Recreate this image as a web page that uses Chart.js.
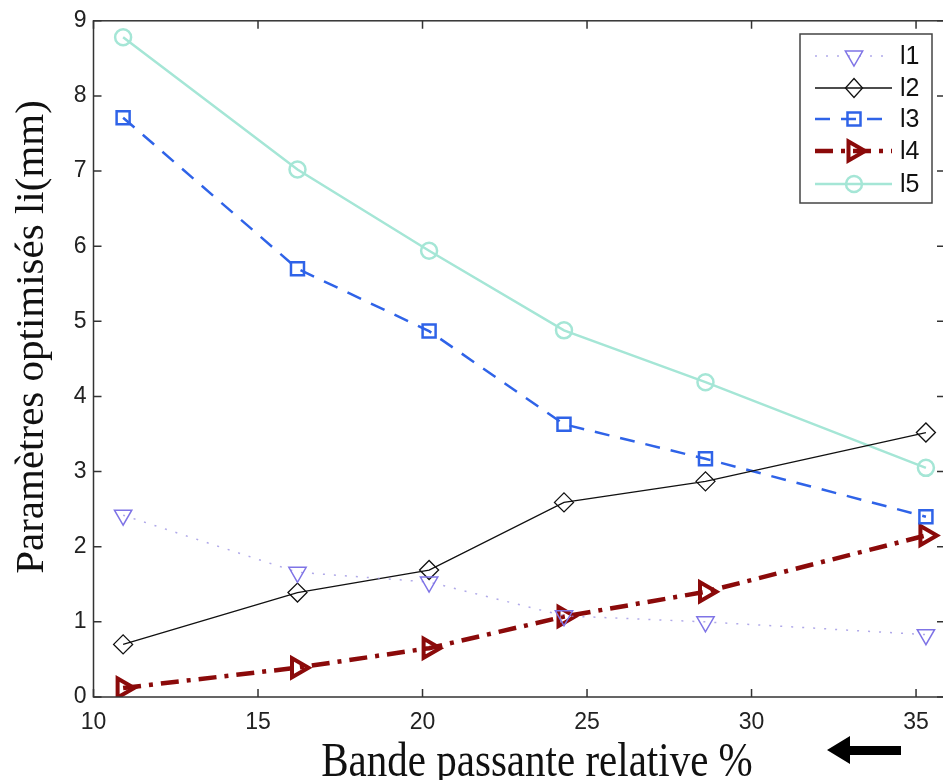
<!DOCTYPE html>
<html>
<head>
<meta charset="utf-8">
<script src="https://cdn.jsdelivr.net/npm/chart.js@4.4.1/dist/chart.umd.min.js"></script>
<style>
	html, body { margin: 0; padding: 0; background: #fff; overflow: hidden; }
	#wrap { width: 943px; height: 780px; overflow: hidden; }
</style>
</head>
<body>
<div id="wrap"><canvas id="chart" width="960" height="780"></canvas></div>
<script>
// bande passante relative (%)
const bandwidth = [10.9, 16.2, 20.2, 24.3, 28.6, 35.3];

const l1 = [2.42, 1.66, 1.53, 1.08, 1.00, 0.83];
const l2 = [0.70, 1.39, 1.69, 2.59, 2.87, 3.52];
const l3 = [7.71, 5.70, 4.87, 3.63, 3.17, 2.40];
const l4 = [0.12, 0.39, 0.65, 1.07, 1.40, 2.15];
const l5 = [8.78, 7.02, 5.94, 4.88, 4.19, 3.05];

const seriesNames = ["l1", "l2", "l3", "l4", "l5"];
const xTicks = [10, 15, 20, 25, 30, 35];
const yTicks = [0, 1, 2, 3, 4, 5, 6, 7, 8, 9];

const toPoints = (ys) => ys.map((y, i) => ({ x: bandwidth[i], y: y }));

const styles = [
	{ color: "#7f74e6", line: "rgba(150, 140, 225, 0.75)", width: 1.5, dash: [2, 9], point: "triangle", rot: 180, r: 10, pw: 1.5 },
	{ color: "#111111", line: "#111111", width: 1.3, dash: [], point: "rectRot", rot: 0, r: 9.5, pw: 1.3 },
	{ color: "#2f63e8", line: "#2f63e8", width: 2.5, dash: [15, 11], point: "rect", rot: 0, r: 9.2, pw: 2.5 },
	{ color: "#8b0a0a", line: "#8b0a0a", width: 4.5, dash: [18, 8, 4, 8], point: "triangle", rot: 90, r: 11, pw: 4 },
	{ color: "#a5e6d6", line: "#a5e6d6", width: 2.5, dash: [], point: "circle", rot: 0, r: 8, pw: 2.5 }
];

const allSeries = [l1, l2, l3, l4, l5];

const datasets = allSeries.map((ys, i) => {
	const s = styles[i];
	return {
		label: seriesNames[i],
		data: toPoints(ys),
		borderColor: s.line,
		borderWidth: s.width,
		borderDash: s.dash,
		pointStyle: s.point,
		pointRotation: s.rot,
		pointRadius: s.r,
		pointBorderColor: s.color,
		pointBorderWidth: s.pw,
		pointBackgroundColor: "rgba(0,0,0,0)",
		tension: 0,
		fill: false
	};
});

// simple marker for the legend box
function drawMarker(ctx, s, x, y) {
	ctx.save();
	ctx.setLineDash([]);
	ctx.strokeStyle = s.color;
	ctx.lineWidth = s.pw;
	ctx.beginPath();
	const r = s.r;
	if (s.point === "circle") {
		ctx.arc(x, y, r, 0, Math.PI * 2);
	} else if (s.point === "rect") {
		const h = Math.SQRT1_2 * r;
		ctx.rect(x - h, y - h, 2 * h, 2 * h);
	} else if (s.point === "rectRot") {
		ctx.moveTo(x, y - r);
		ctx.lineTo(x + r * 0.9, y);
		ctx.lineTo(x, y + r);
		ctx.lineTo(x - r * 0.9, y);
		ctx.closePath();
	} else {
		let rad = s.rot * Math.PI / 180;
		ctx.moveTo(x + Math.sin(rad) * r, y - Math.cos(rad) * r);
		rad += Math.PI * 2 / 3;
		ctx.lineTo(x + Math.sin(rad) * r, y - Math.cos(rad) * r);
		rad += Math.PI * 2 / 3;
		ctx.lineTo(x + Math.sin(rad) * r, y - Math.cos(rad) * r);
		ctx.closePath();
	}
	ctx.stroke();
	ctx.restore();
}

const frame = {
	id: "frame",
	afterDatasetsDraw: function (chart) {
		const ctx = chart.ctx;
		const a = chart.chartArea;
		const xs = chart.scales.x;
		const ys = chart.scales.y;
		const tick = 8;

		ctx.save();
		ctx.strokeStyle = "#333";
		ctx.lineWidth = 1.5;
		ctx.strokeRect(a.left, a.top, a.right - a.left, a.bottom - a.top);

		ctx.beginPath();
		xTicks.forEach((v) => {
			const px = xs.getPixelForValue(v);
			ctx.moveTo(px, a.bottom);
			ctx.lineTo(px, a.bottom - tick);
			ctx.moveTo(px, a.top);
			ctx.lineTo(px, a.top + tick);
		});
		yTicks.forEach((v) => {
			const py = ys.getPixelForValue(v);
			ctx.moveTo(a.left, py);
			ctx.lineTo(a.left + tick, py);
			ctx.moveTo(a.right, py);
			ctx.lineTo(a.right - tick, py);
		});
		ctx.stroke();
		ctx.restore();
	},
	afterDraw: function (chart) {
		const ctx = chart.ctx;

		// axis titles
		ctx.save();
		ctx.fillStyle = "#111";
		ctx.font = "41px 'Liberation Serif', 'Times New Roman', serif";
		ctx.textAlign = "center";
		ctx.textBaseline = "alphabetic";
		ctx.translate(537, 776);
		ctx.scale(1, 1.2);
		ctx.fillText("Bande passante relative %", 0, 0);
		ctx.restore();

		ctx.save();
		ctx.fillStyle = "#111";
		ctx.font = "41px 'Liberation Serif', 'Times New Roman', serif";
		ctx.textAlign = "center";
		ctx.textBaseline = "alphabetic";
		ctx.translate(43, 337);
		ctx.rotate(-Math.PI / 2);
		ctx.fillText("Paramètres optimisés li(mm)", 0, 0);
		ctx.restore();

		// arrow next to the x title
		ctx.save();
		ctx.fillStyle = "#000";
		ctx.beginPath();
		ctx.moveTo(827, 750);
		ctx.lineTo(850, 736);
		ctx.lineTo(850, 746);
		ctx.lineTo(901, 746);
		ctx.lineTo(901, 755);
		ctx.lineTo(850, 755);
		ctx.lineTo(850, 764);
		ctx.closePath();
		ctx.fill();
		ctx.restore();

		// legend box
		const box = { left: 800, top: 34, right: 932, bottom: 203 };
		const rows = [56, 88, 119, 151, 184];
		ctx.save();
		ctx.fillStyle = "#fff";
		ctx.fillRect(box.left, box.top, box.right - box.left, box.bottom - box.top);
		ctx.strokeStyle = "#444";
		ctx.lineWidth = 1.5;
		ctx.strokeRect(box.left, box.top, box.right - box.left, box.bottom - box.top);

		chart.data.datasets.forEach((ds, i) => {
			const s = styles[i];
			const y = rows[i];
			ctx.save();
			ctx.strokeStyle = s.line;
			ctx.lineWidth = s.width;
			ctx.setLineDash(s.dash);
			ctx.beginPath();
			ctx.moveTo(815, y);
			ctx.lineTo(892, y);
			ctx.stroke();
			ctx.restore();
			drawMarker(ctx, s, 854, y);

			ctx.fillStyle = "#111";
			ctx.font = "25px 'Liberation Sans', Arial, sans-serif";
			ctx.textAlign = "left";
			ctx.textBaseline = "middle";
			ctx.fillText(ds.label, 900, y + 1);
		});
		ctx.restore();
	}
};

const chart = new Chart(document.getElementById("chart").getContext("2d"), {
	type: "line",
	data: { datasets: datasets },
	options: {
		responsive: false,
		animation: false,
		events: [],
		layout: {
			padding: { top: 20.5, right: 1, left: 0, bottom: 0 }
		},
		plugins: {
			legend: { display: false },
			tooltip: { enabled: false }
		},
		scales: {
			x: {
				type: "linear",
				min: 10,
				max: 35.88,
				grid: { display: false, drawTicks: false },
				border: { display: false },
				ticks: {
					stepSize: 5,
					includeBounds: false,
					padding: 12,
					color: "#222",
					font: { family: "'Liberation Sans', Arial, sans-serif", size: 23 }
				},
				afterFit: (scale) => {
					scale.height = 83;
				}
			},
			y: {
				min: 0,
				max: 9,
				grid: { display: false, drawTicks: false },
				border: { display: false },
				ticks: {
					stepSize: 1,
					padding: 7,
					color: "#222",
					font: { family: "'Liberation Sans', Arial, sans-serif", size: 23 }
				},
				afterFit: (scale) => {
					scale.width = 93.5;
				}
			}
		}
	},
	plugins: [frame]
});
</script>
</body>
</html>
